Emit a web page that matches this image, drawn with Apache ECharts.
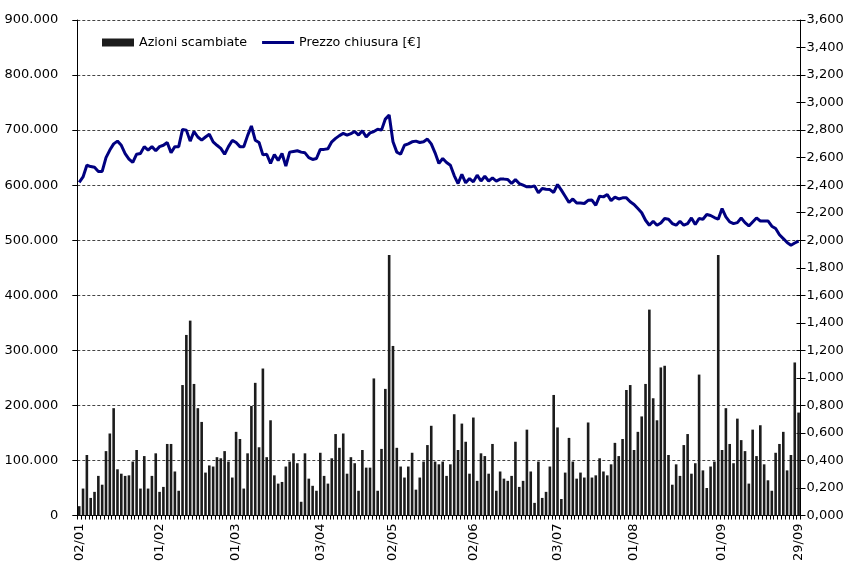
<!DOCTYPE html>
<html>
<head>
<meta charset="utf-8">
<script src="https://cdn.jsdelivr.net/npm/echarts@6/dist/echarts.min.js"></script>
<style>
html,body{margin:0;padding:0;background:#fff;}
#chart{width:849px;height:564px;}
</style>
</head>
<body>
<div id="chart"></div>
<script>
// Category-axis tick labels: first trading day of each month (index into the series)
const tickIndex = [0, 21, 41, 63, 82, 103, 125, 145, 168, 188];
const tickLabels = ['02/01', '01/02', '01/03', '03/04', '02/05', '02/06', '03/07', '01/08', '01/09', '29/09'];

// Azioni scambiate (shares traded)
const volumes = [
  17000,49000,110000,32000,43000,72000,56000,117000,149000,195000,
  84000,76000,72000,73000,98000,119000,49000,108000,49000,72000,
  113000,43000,52000,130000,130000,80000,45000,237000,328000,354000,
  239000,195000,170000,78000,91000,89000,106000,104000,117000,98000,
  69000,152000,139000,49000,113000,199000,241000,124000,267000,106000,
  173000,73000,58000,61000,89000,98000,113000,95000,25000,113000,
  67000,54000,45000,114000,72000,58000,104000,148000,123000,149000,
  76000,106000,95000,45000,119000,87000,87000,249000,45000,121000,
  230000,473000,308000,123000,89000,69000,89000,114000,47000,69000,
  98000,128000,163000,98000,93000,98000,72000,93000,184000,119000,
  167000,134000,76000,178000,63000,113000,108000,76000,130000,45000,
  80000,67000,63000,72000,134000,52000,63000,156000,80000,23000,
  98000,32000,43000,89000,219000,160000,30000,78000,141000,98000,
  67000,78000,69000,169000,69000,73000,104000,80000,73000,93000,
  132000,108000,139000,228000,237000,119000,152000,180000,239000,374000,
  213000,173000,269000,272000,110000,56000,93000,72000,128000,148000,
  76000,95000,256000,82000,50000,89000,98000,473000,119000,195000,
  130000,95000,176000,137000,117000,58000,156000,108000,164000,93000,
  64000,45000,114000,130000,152000,82000,110000,278000,187000
];

// Prezzo chiusura [€]
const prices = [
  2.42,2.46,2.545,2.535,2.53,2.50,2.50,2.60,2.655,2.70,
  2.72,2.69,2.63,2.59,2.565,2.625,2.63,2.68,2.655,2.68,
  2.65,2.68,2.69,2.71,2.635,2.68,2.68,2.805,2.80,2.72,
  2.79,2.75,2.727,2.75,2.77,2.715,2.69,2.667,2.625,2.68,
  2.725,2.71,2.68,2.68,2.76,2.83,2.727,2.71,2.62,2.625,
  2.558,2.623,2.58,2.63,2.538,2.64,2.645,2.65,2.64,2.635,
  2.60,2.587,2.594,2.66,2.66,2.665,2.715,2.74,2.76,2.776,
  2.764,2.775,2.79,2.764,2.795,2.75,2.78,2.79,2.806,2.80,
  2.88,2.91,2.715,2.64,2.625,2.69,2.70,2.715,2.72,2.71,
  2.715,2.735,2.70,2.635,2.558,2.594,2.565,2.545,2.47,2.412,
  2.478,2.417,2.448,2.424,2.473,2.43,2.465,2.43,2.453,2.43,
  2.444,2.444,2.442,2.412,2.44,2.412,2.40,2.388,2.388,2.395,
  2.344,2.376,2.37,2.368,2.347,2.405,2.364,2.32,2.274,2.30,
  2.271,2.27,2.267,2.29,2.292,2.254,2.32,2.315,2.332,2.288,
  2.313,2.30,2.308,2.308,2.279,2.26,2.23,2.20,2.145,
  2.109,2.138,2.109,2.125,2.158,2.153,2.121,2.109,2.138,2.109,
  2.121,2.162,2.114,2.158,2.153,2.187,2.18,2.165,2.153,2.23,
  2.17,2.133,2.121,2.128,2.162,2.128,2.104,2.133,2.162,2.14,
  2.14,2.14,2.102,2.085,2.04,2.012,1.983,1.964,1.98,1.993
];

const categories = volumes.map((_, i) => String(i));
const labelFor = {};
tickIndex.forEach((idx, k) => { labelFor[idx] = tickLabels[k]; });

const FONT = 'DejaVu Sans';
const chart = echarts.init(document.getElementById('chart'), null, { renderer: 'canvas' });
chart.setOption({
  animation: false,
  backgroundColor: '#ffffff',
  textStyle: { fontFamily: FONT, color: '#000' },
  grid: { left: 77.3, right: 48.5, top: 20, bottom: 44.7, containLabel: false },
  legend: {
    left: 102, top: 36, padding: 0,
    itemWidth: 32, itemHeight: 8, itemGap: 15,
    textStyle: { fontFamily: FONT, fontSize: 12.7, color: '#000' },
    data: [
      { name: 'Azioni scambiate', icon: 'rect' },
      { name: 'Prezzo chiusura [€]', icon: 'path://M0,0 L100,0 L100,10 L0,10 Z' }
    ]
  },
  xAxis: {
    type: 'category',
    data: categories,
    boundaryGap: true,
    axisLine: { lineStyle: { color: '#000', width: 1 } },
    axisTick: { show: true, interval: 0, length: 4, lineStyle: { color: '#000' } },
    axisLabel: {
      interval: (idx) => labelFor[idx] !== undefined,
      formatter: (v, idx) => labelFor[idx] || '',
      rotate: 90, margin: 8,
      fontFamily: FONT, fontSize: 13, color: '#000'
    },
    splitLine: { show: false }
  },
  yAxis: [
    {
      type: 'value', min: 0, max: 900000, interval: 100000, position: 'left',
      axisLine: { show: true, lineStyle: { color: '#000', width: 1 } },
      axisTick: { show: true, length: 5, lineStyle: { color: '#000' } },
      axisLabel: {
        margin: 19, fontFamily: FONT, fontSize: 13, color: '#000',
        formatter: v => v === 0 ? '0' : (v / 1000) + '.000'
      },
      splitLine: { show: true, lineStyle: { color: '#444', type: [3, 2], width: 1 } }
    },
    {
      type: 'value', min: 0, max: 3.6, interval: 0.2, position: 'right',
      axisLine: { show: true, lineStyle: { color: '#000', width: 1 } },
      axisTick: { show: true, length: 5, lineStyle: { color: '#000' } },
      axisLabel: {
        margin: 6, fontFamily: FONT, fontSize: 13, color: '#000',
        formatter: v => v.toFixed(3).replace('.', ',')
      },
      splitLine: { show: false }
    },
    {
      // inner half of the crossing tick marks on the right axis
      type: 'value', min: 0, max: 3.6, interval: 0.2, position: 'right',
      axisLine: { show: false },
      axisTick: { show: true, inside: true, length: 4, lineStyle: { color: '#000' } },
      axisLabel: { show: false },
      splitLine: { show: false }
    }
  ],
  series: [
    {
      name: 'Azioni scambiate', type: 'bar', yAxisIndex: 0,
      data: volumes, barWidth: '68%',
      itemStyle: { color: '#1c1c1c' }
    },
    {
      name: 'Prezzo chiusura [€]', type: 'line', yAxisIndex: 1,
      data: prices, symbol: 'none', smooth: false,
      lineStyle: { color: '#000080', width: 3 },
      itemStyle: { color: '#000080' }, z: 5
    }
  ]
});
</script>
</body>
</html>
